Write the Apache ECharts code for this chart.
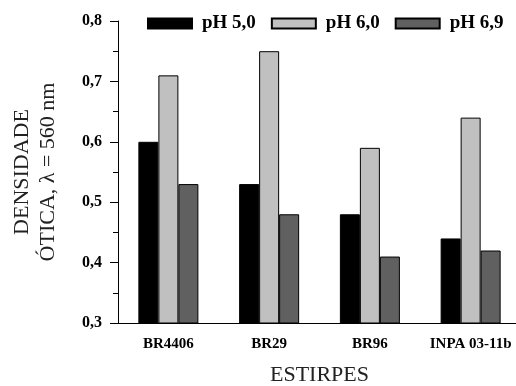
<!DOCTYPE html>
<html>
<head>
<meta charset="utf-8">
<script src="https://cdn.jsdelivr.net/npm/echarts@6/dist/echarts.min.js"></script>
<style>
  html, body { margin: 0; padding: 0; background: #fff; }
  #chart { width: 516px; height: 386px; }
</style>
</head>
<body>
<div id="chart"></div>
<script>
// categories and values
var estirpes = ['BR4406', 'BR29', 'BR96', 'INPA 03-11b'];
var ph50 = [0.60, 0.53, 0.48, 0.44];
var ph60 = [0.71, 0.75, 0.59, 0.64];
var ph69 = [0.53, 0.48, 0.41, 0.42];
var seriesNames = ['pH 5,0', 'pH 6,0', 'pH 6,9'];

var serif = '"Liberation Serif", "DejaVu Serif", serif';

function barSerie(name, data, color) {
    return {
        name: name,
        type: 'bar',
        data: data,
        barWidth: 20,
        barGap: '0%',
        itemStyle: {
            color: color,
            borderColor: '#000',
            borderWidth: 1
        }
    };
}

var option = {
    animation: false,
    backgroundColor: '#fff',
    legend: {
        data: seriesNames,
        left: 142,
        top: 9,
        icon: 'rect',
        itemWidth: 44,
        itemHeight: 10,
        itemGap: 15,
        textStyle: {
            fontFamily: serif,
            fontWeight: 'bold',
            fontSize: 19,
            color: '#000',
            padding: [0, 0, 0, 5]
        }
    },
    grid: {
        left: 118,
        top: 21,
        width: 403,
        bottom: 63,
        outerBoundsMode: 'none',
        containLabel: false
    },
    xAxis: {
        type: 'category',
        data: estirpes,
        name: 'ESTIRPES',
        nameLocation: 'middle',
        nameGap: 41,
        nameTextStyle: { fontFamily: serif, fontSize: 22, color: '#222' },
        axisLine: { lineStyle: { color: '#000', width: 1 } },
        axisTick: { alignWithLabel: true, length: 4, lineStyle: { color: '#000' } },
        axisLabel: {
            interval: 0,
            fontFamily: serif,
            fontWeight: 'bold',
            fontSize: 15,
            color: '#000',
            margin: 14
        }
    },
    yAxis: {
        type: 'value',
        min: 0.3,
        max: 0.8,
        interval: 0.1,
        name: 'DENSIDADE\nÓTICA, λ = 560 nm',
        nameLocation: 'middle',
        nameRotate: 90,
        nameGap: 57,
        nameTextStyle: { fontFamily: serif, fontSize: 22, color: '#222', lineHeight: 26, align: 'center' },
        axisLine: { show: true, lineStyle: { color: '#000', width: 1 } },
        axisTick: { show: true, length: 8, lineStyle: { color: '#000' } },
        minorTick: { show: true, splitNumber: 2, length: 5, lineStyle: { color: '#000' } },
        splitLine: { show: false },
        axisLabel: {
            fontFamily: serif,
            fontWeight: 'bold',
            fontSize: 16,
            color: '#000',
            margin: 16,
            formatter: function (v) { return v.toFixed(1).replace('.', ','); }
        }
    },
    series: [
        barSerie(seriesNames[0], ph50, '#000000'),
        barSerie(seriesNames[1], ph60, '#c0c0c0'),
        barSerie(seriesNames[2], ph69, '#606060')
    ]
};

var myChart = echarts.init(document.getElementById('chart'));
myChart.setOption(option);
</script>
</body>
</html>
